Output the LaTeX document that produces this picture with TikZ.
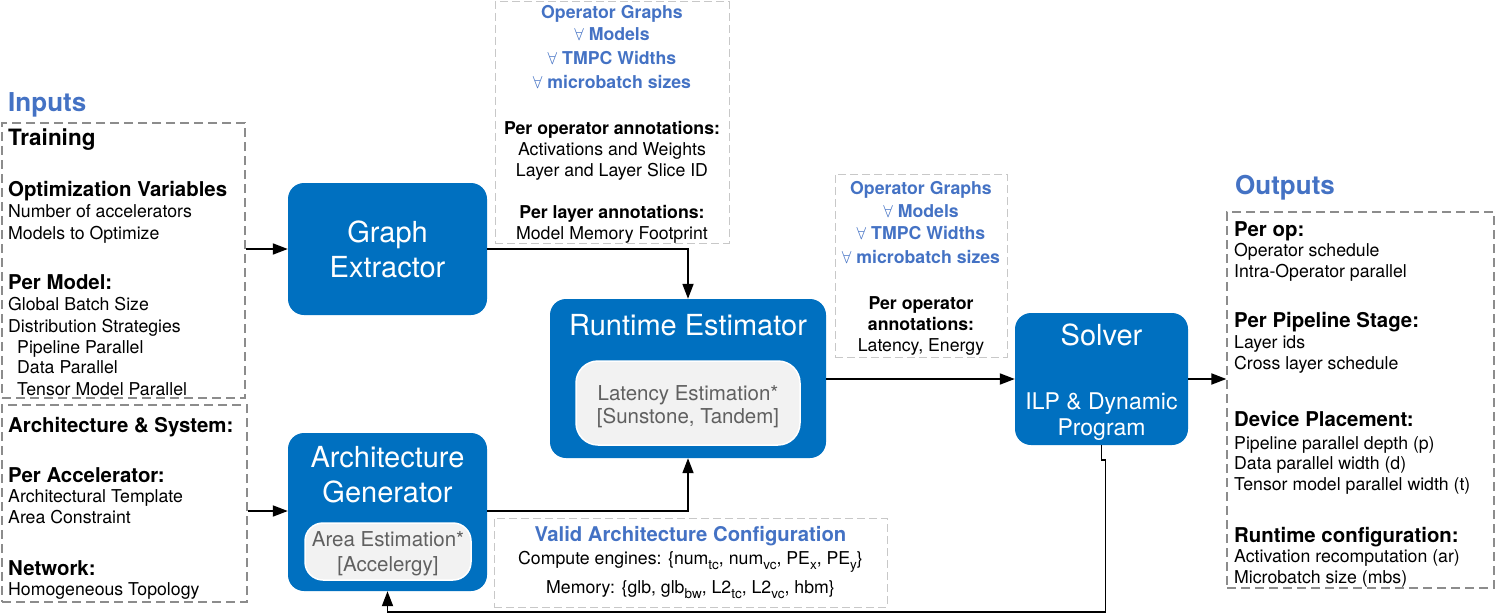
\documentclass[tikz,border=0pt]{standalone}
\usepackage{fontspec}
\setmainfont{TeX Gyre Heros}
\usetikzlibrary{arrows.meta}
\definecolor{boxblue}{RGB}{0,112,192}
\definecolor{txtblue}{RGB}{68,114,196}
\definecolor{dashgray}{RGB}{140,140,140}
\definecolor{lightdash}{RGB}{200,200,200}
\definecolor{innerfill}{RGB}{242,242,242}
\definecolor{innertext}{RGB}{96,96,96}
\newcommand\lowsub[1]{\raisebox{-5pt}{\fontsize{13.5}{14}\selectfont #1}}
\begin{document}
\begin{tikzpicture}[x=1pt,y=-1pt,
  body/.style={inner sep=0pt, font=\fontsize{17.7}{21}\selectfont},
  bbody/.style={inner sep=0pt, font=\fontsize{17.7}{21}\selectfont\bfseries},
  blue/.style={inner sep=0pt, text=txtblue, font=\fontsize{17.7}{21}\selectfont\bfseries},
  hdr/.style={inner sep=0pt, font=\fontsize{20.4}{24}\selectfont\bfseries},
  big/.style={inner sep=0pt, font=\fontsize{22.5}{26}\selectfont\bfseries},
  ttl/.style={inner sep=0pt, text=txtblue, font=\fontsize{26}{30}\selectfont\bfseries},
  btitle/.style={inner sep=0pt, text=txtblue, font=\fontsize{20.3}{24}\selectfont\bfseries},
  lbl/.style={inner sep=0pt, text=white, font=\fontsize{29}{34}\selectfont},
  slbl/.style={inner sep=0pt, text=white, font=\fontsize{23}{27}\selectfont},
  ilbl/.style={inner sep=0pt, text=innertext, font=\fontsize{20.5}{24}\selectfont},
  lt/.style={anchor=base west},
  ct/.style={anchor=base},
  bluebox/.style={fill=boxblue, draw=none, rounded corners=16pt, inner sep=0pt},
  innerbox/.style={fill=innerfill, draw=white, line width=1.5pt, rounded corners=18pt, inner sep=0pt},
  iodash/.style={draw=dashgray, line width=1.3pt, dash pattern=on 9pt off 5pt, inner sep=0pt},
  anndash/.style={draw=lightdash, line width=1pt, dash pattern=on 8pt off 4pt, inner sep=0pt},
  conn/.style={line width=1.8pt, -{Triangle[length=15pt,width=11pt]}}
]
\useasboundingbox (0,0) rectangle (1495,615);

% dashed frames
\node[iodash, minimum width=243pt, minimum height=275pt] (in1) at (123.5,260.5) {};
\node[iodash, minimum width=245pt, minimum height=197pt] (in2) at (124.5,503.5) {};
\node[iodash, minimum width=267pt, minimum height=376pt] (out) at (1360.5,400) {};
\node[anndash, minimum width=234pt, minimum height=241pt] (ann1) at (612,122.5) {};
\node[anndash, minimum width=172pt, minimum height=183pt] (ann2) at (921,265.5) {};
\node[anndash, minimum width=393pt, minimum height=89pt] (ann3) at (690.5,562.5) {};

% blue boxes
\node[bluebox, minimum width=199pt, minimum height=132pt] (ge) at (387.5,249) {};
\node[bluebox, minimum width=199pt, minimum height=158pt] (ag) at (387.5,512) {};
\node[innerbox, minimum width=166pt, minimum height=57pt] (agin) at (388,551.5) {};
\node[bluebox, minimum width=276pt, minimum height=159pt] (re) at (688,378.5) {};
\node[innerbox, rounded corners=22pt, minimum width=224pt, minimum height=84pt] (rein) at (688,403) {};
\node[bluebox, minimum width=173pt, minimum height=132pt] (sol) at (1101.5,379) {};

% box labels
\node[lbl, ct] (geA) at (387.5,242) {Graph};
\node[lbl, ct] (geB) at (387.5,277) {Extractor};
\node[lbl, ct] (agA) at (387.5,467) {Architecture};
\node[lbl, ct] (agB) at (387.5,502) {Generator};
\node[ilbl, ct] (agC) at (388,546) {Area Estimation*};
\node[ilbl, ct] (agD) at (388,571) {[Accelergy]};
\node[lbl, ct] (reA) at (688,335) {Runtime Estimator};
\node[ilbl, ct] (reB) at (688,400) {Latency Estimation*};
\node[ilbl, ct] (reC) at (688,423) {[Sunstone, Tandem]};
\node[lbl, ct] (soA) at (1101.5,345) {Solver};
\node[slbl, ct] (soB) at (1101.5,409) {ILP \& Dynamic};
\node[slbl, ct] (soC) at (1101.5,435) {Program};

% inputs
\node[ttl, lt] (inT) at (8,111) {Inputs};
\node[big, lt] (i1) at (8,145) {Training};
\node[hdr, lt] (i2) at (8,196) {Optimization Variables};
\node[body, lt] (i3) at (8,217) {Number of accelerators};
\node[body, lt] (i4) at (8,239) {Models to Optimize};
\node[hdr, lt] (i5) at (8,289) {Per Model:};
\node[body, lt] (i6) at (8,310) {Global Batch Size};
\node[body, lt] (i7) at (8,332) {Distribution Strategies};
\node[body, lt] (i8) at (17,353) {Pipeline Parallel};
\node[body, lt] (i9) at (17,373) {Data Parallel};
\node[body, lt] (i10) at (17,395) {Tensor Model Parallel};
\node[hdr, lt] (j1) at (8,432) {Architecture \& System:};
\node[hdr, lt] (j2) at (8,482) {Per Accelerator:};
\node[body, lt] (j3) at (8,502) {Architectural Template};
\node[body, lt] (j4) at (8,523) {Area Constraint};
\node[hdr, lt] (j5) at (8,575) {Network:};
\node[body, lt] (j6) at (8,595) {Homogeneous Topology};

% outputs
\node[ttl, lt] (outT) at (1235,194) {Outputs};
\node[hdr, lt] (o1) at (1234,236) {Per op:};
\node[body, lt] (o2) at (1234,256) {Operator schedule};
\node[body, lt] (o3) at (1234,277) {Intra-Operator parallel};
\node[hdr, lt] (o4) at (1234,327) {Per Pipeline Stage:};
\node[body, lt] (o5) at (1234,348) {Layer ids};
\node[body, lt] (o6) at (1234,369) {Cross layer schedule};
\node[hdr, lt] (o7) at (1234,426) {Device Placement:};
\node[body, lt] (o8) at (1234,449) {Pipeline parallel depth (p)};
\node[body, lt] (o9) at (1234,469) {Data parallel width (d)};
\node[body, lt] (o10) at (1234,490) {Tensor model parallel width (t)};
\node[hdr, lt] (o11) at (1234,542) {Runtime configuration:};
\node[body, lt] (o12) at (1234,562) {Activation recomputation (ar)};
\node[body, lt] (o13) at (1234,583) {Microbatch size (mbs)};

% top annotation
\node[blue, ct] (a1) at (612,19) {Operator Graphs};
\node[blue, ct] (a2) at (612,41) {$\forall$ Models};
\node[blue, ct] (a3) at (612,65) {$\forall$ TMPC Widths};
\node[blue, ct] (a4) at (612,89) {$\forall$ microbatch sizes};
\node[bbody, ct] (a5) at (612,134) {Per operator annotations:};
\node[body, ct] (a6) at (612,155) {Activations and Weights};
\node[body, ct] (a7) at (612,176) {Layer and Layer Slice ID};
\node[bbody, ct] (a8) at (612,218) {Per layer annotations:};
\node[body, ct] (a9) at (612,239) {Model Memory Footprint};

% middle annotation
\node[blue, ct] (b1) at (921,194) {Operator Graphs};
\node[blue, ct] (b2) at (921,217) {$\forall$ Models};
\node[blue, ct] (b3) at (921,239) {$\forall$ TMPC Widths};
\node[blue, ct] (b4) at (921,263) {$\forall$ microbatch sizes};
\node[bbody, ct] (b5) at (921,309) {Per operator};
\node[bbody, ct] (b6) at (921,330) {annotations:};
\node[body, ct] (b7) at (921,351) {Latency, Energy};

% bottom annotation
\node[btitle, ct] (c1) at (690.5,541) {Valid Architecture Configuration};
\node[body, ct] (c2) at (690.5,564) {Compute engines: \{num\lowsub{tc}, num\lowsub{vc}, PE\lowsub{x}, PE\lowsub{y}\}};
\node[body, ct] (c3) at (690.5,593) {Memory: \{glb, glb\lowsub{bw}, L2\lowsub{tc}, L2\lowsub{vc}, hbm\}};

% connectors
\coordinate (ya) at (0,511);
\draw[conn] (in1.east |- ge.west) -- (ge.west);
\draw[conn] (in2.east |- ya) -- (ag.west |- ya);
\draw[conn] (ge.east) -| (re.north);
\draw[conn] (ag.east |- ya) -| (re.south);
\draw[conn] (re.east |- sol.west) -- (sol.west);
\draw[conn] (sol.east) -- (out.west |- sol.east);
\draw[conn] (sol.south) -- ++(0,15) -- ++(4,0) -- ++(0,152) -| (ag.south);
\end{tikzpicture}
\end{document}
